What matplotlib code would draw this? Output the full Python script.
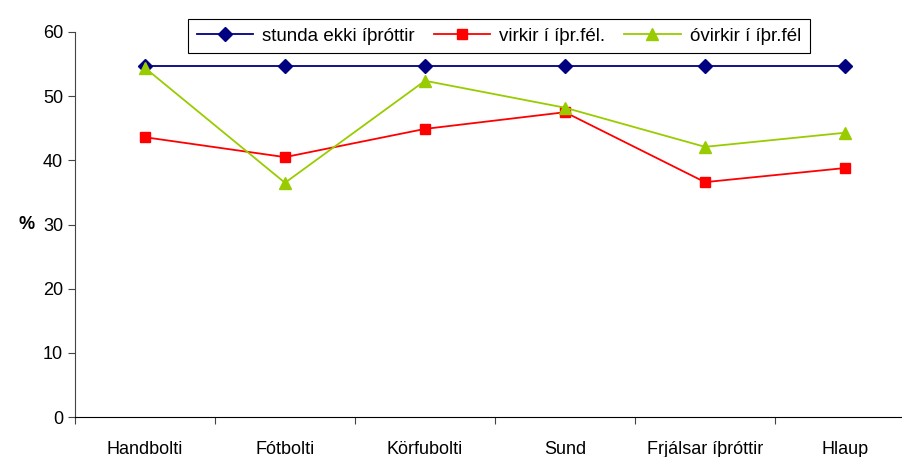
import matplotlib.pyplot as plt

plt.rcParams['font.family'] = ['Liberation Sans', 'DejaVu Sans']

categories = ["Handbolti", "Fótbolti", "Körfubolti", "Sund", "Frjálsar íþróttir", "Hlaup"]
stunda_ekki = [54.7, 54.7, 54.7, 54.7, 54.7, 54.7]
virkir = [43.6, 40.5, 44.9, 47.5, 36.6, 38.8]
ovirkir = [54.4, 36.5, 52.4, 48.2, 42.1, 44.3]

fig = plt.figure(figsize=(9.03, 4.57), dpi=100)
ax = fig.add_axes([75/903, 40/457, 840/903, 385/457])

x = list(range(len(categories)))
ax.plot(x, stunda_ekki, color="#000080", marker="D", markersize=7, lw=1.3, label="stunda ekki íþróttir")
ax.plot(x, virkir, color="#ff0000", marker="s", markersize=7, lw=1.3, label="virkir í íþr.fél.")
ax.plot(x, ovirkir, color="#99cc00", marker="^", markersize=8, lw=1.3, label="óvirkir í íþr.fél")

ax.set_xlim(-0.5, 5.5)
ax.set_ylim(0, 60)
ax.set_yticks(range(0, 61, 10))
ax.set_xticks([i - 0.5 for i in range(6)], minor=False)
ax.set_xticklabels([])
ax.set_xticks(x, minor=True)
ax.set_xticklabels(categories, minor=True)
ax.tick_params(axis='x', which='major', direction='out', length=5, color='#444444')
ax.tick_params(axis='x', which='minor', length=0, pad=17, labelsize=13)
ax.tick_params(axis='y', direction='out', length=5, labelsize=13, color='#444444')
for s in ['top', 'right']:
    ax.spines[s].set_visible(False)
ax.spines['left'].set_color('#444444')
ax.spines['bottom'].set_color('black')
ax.set_ylabel("%", rotation=0, fontsize=13, fontweight='bold', labelpad=12, va='center')

leg = ax.legend(loc='upper center', bbox_to_anchor=((499 - 75) / 840, 1.0 + 22/385), ncol=3,
                frameon=True, fancybox=False, edgecolor='black', fontsize=13.5, framealpha=1,
                handlelength=3, columnspacing=1.0, handletextpad=0.5, borderpad=0.45)
leg.get_frame().set_linewidth(0.8)

fig.savefig("out.png", dpi=100)
